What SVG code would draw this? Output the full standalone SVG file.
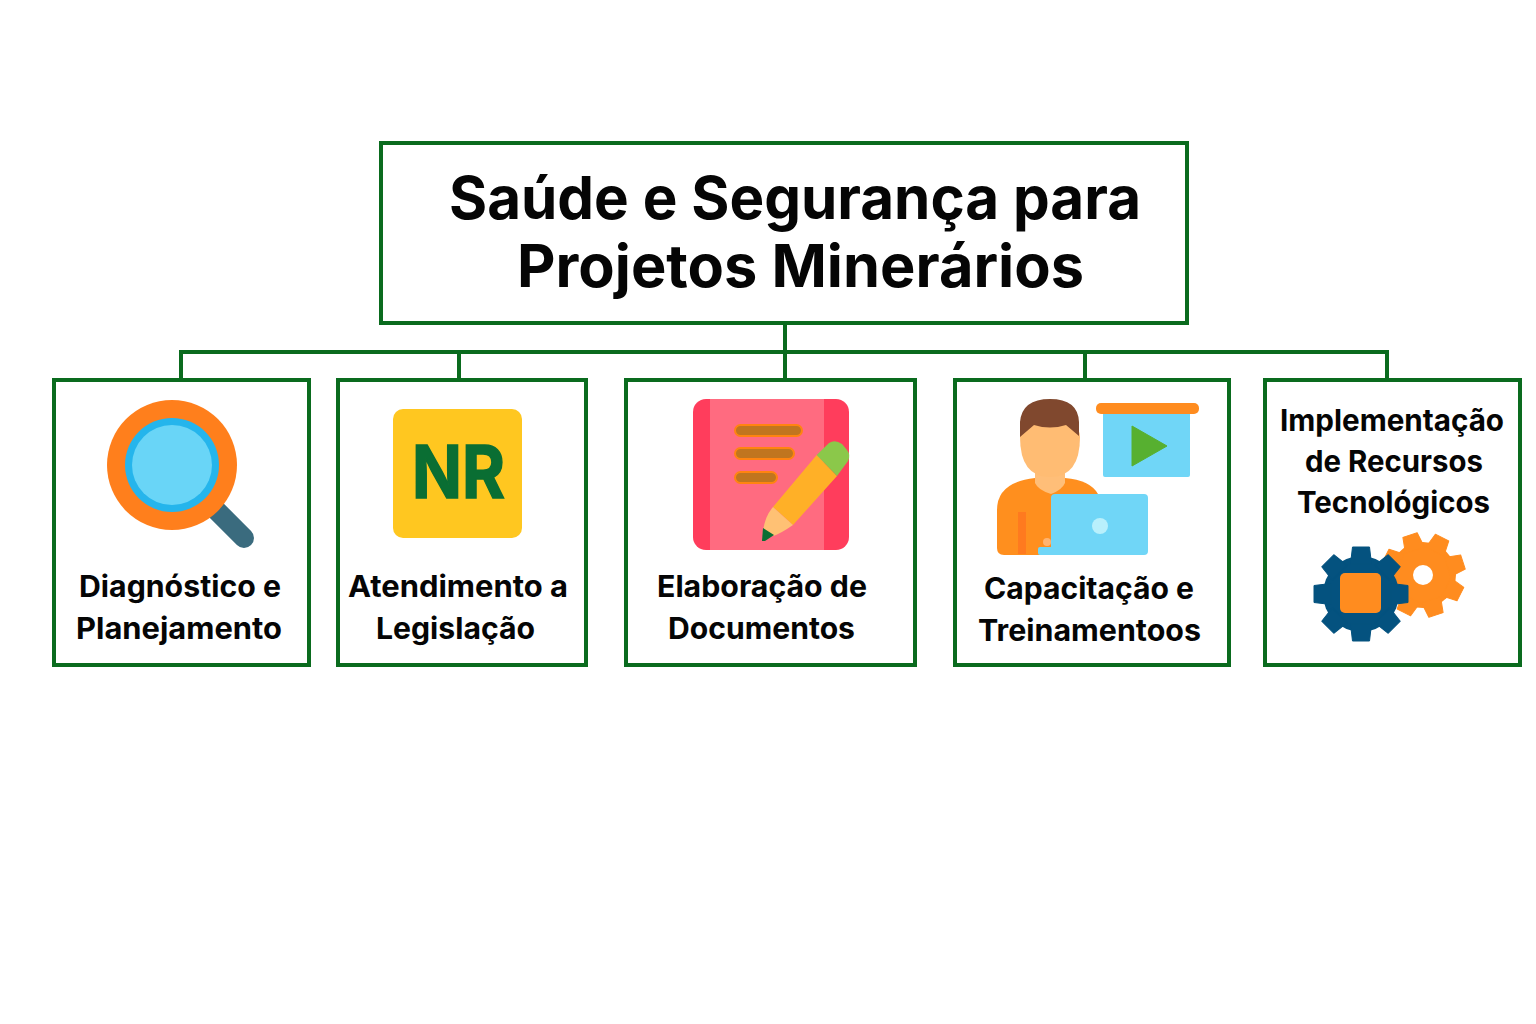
<svg xmlns="http://www.w3.org/2000/svg" width="1536" height="1024" viewBox="0 0 1536 1024">
<style>
.box{fill:#fff;stroke:#0a6b1e;stroke-width:4}
.conn{fill:none;stroke:#0a6b1e;stroke-width:4}
text{font-family:"Inter","Liberation Sans",sans-serif;font-weight:700;fill:#050505}
.t{font-size:59px}
.l{font-size:30px}
</style>
<defs>
<path id="tb" d="M-8.500 -47H8.500L10.500 -30H-10.500Z" fill="#04527f" stroke="#04527f" stroke-width="1" stroke-linejoin="round"/>
<path id="to" d="M-7.500 -42H7.500L10 -26H-10Z" fill="#ff8c1f" stroke="#ff8c1f" stroke-width="1" stroke-linejoin="round"/>
</defs>
<rect width="1536" height="1024" fill="#fff"/>
<g id="connectors" class="conn">
<path d="M785 323V352M181 380V352H1387V380M459 352V380M785 352V380M1085 352V380"/>
</g>
<g id="title">
<rect class="box" x="381" y="143" width="806" height="180"/>
<text class="t" x="449" y="219" textLength="692" lengthAdjust="spacingAndGlyphs">Saúde e Segurança para</text>
<text class="t" x="517" y="287" textLength="567" lengthAdjust="spacingAndGlyphs">Projetos Minerários</text>
</g>
<g id="node-diagnostico">
<rect class="box" x="54" y="380" width="255" height="285"/>
<path d="M213 507L244 538" stroke="#3a6b7e" stroke-width="20" stroke-linecap="round"/>
<circle cx="172" cy="465" r="65" fill="#ff7f1c"/>
<circle cx="172" cy="465" r="47" fill="#25b5ec"/>
<circle cx="172" cy="465" r="40" fill="#69d5f7"/>
<text class="l" x="79" y="597" textLength="202" lengthAdjust="spacingAndGlyphs">Diagnóstico e</text>
<text class="l" x="76" y="639" textLength="206" lengthAdjust="spacingAndGlyphs">Planejamento</text>
</g>
<g id="node-atendimento">
<rect class="box" x="338" y="380" width="248" height="285"/>
<rect x="393" y="409" width="129" height="129" rx="10" fill="#ffc720"/>
<text x="412" y="498" font-size="73" textLength="93" lengthAdjust="spacingAndGlyphs" style="fill:#0a6e33;stroke:#0a6e33;stroke-width:1.500">NR</text>
<text class="l" x="348" y="597" textLength="220" lengthAdjust="spacingAndGlyphs">Atendimento a</text>
<text class="l" x="376" y="639" textLength="159" lengthAdjust="spacingAndGlyphs">Legislação</text>
</g>
<g id="node-elaboracao">
<rect class="box" x="626" y="380" width="289" height="285"/>
<rect x="693" y="399" width="156" height="151" rx="13" fill="#ff3d5c"/>
<rect x="710" y="399" width="114" height="151" fill="#ff6b80"/>
<g fill="#c0751f" stroke="#ff8410" stroke-width="2">
<rect x="735" y="425" width="67" height="11" rx="5.500"/>
<rect x="735" y="448" width="59" height="11" rx="5.500"/>
<rect x="735" y="472" width="42" height="11" rx="5.500"/>
</g>
<path d="M816.700 455L837 476L793 525L773 507Z" fill="#ffb027"/>
<path d="M816.700 455L829 443Q835 439 842 444L847 450Q851 455 848 461L837 476Z" fill="#8bc84a"/>
<path d="M773 507L793 525Q780 534 773 536L763 531Q765 516 773 507Z" fill="#ffc174"/>
<path d="M763 528L774 535L765 541L762 541Z" fill="#0a6e33"/>
<text class="l" x="657" y="597" textLength="210" lengthAdjust="spacingAndGlyphs">Elaboração de</text>
<text class="l" x="668" y="639" textLength="187" lengthAdjust="spacingAndGlyphs">Documentos</text>
</g>
<g id="node-capacitacao">
<rect class="box" x="955" y="380" width="274" height="285"/>
<rect x="1103" y="412" width="87" height="65" rx="2" fill="#70d6f7"/>
<rect x="1096" y="403" width="103" height="11" rx="5" fill="#ff8c1f"/>
<path d="M1132 426L1167 446L1132 466Z" fill="#57b030" stroke="#57b030" stroke-linejoin="round"/>
<path d="M997 548V510Q997 482 1035 478H1065Q1090 480 1098 494L1098 555H1004Q997 555 997 548Z" fill="#ff8f1e"/>
<rect x="1018" y="512" width="8" height="42" fill="#ff7a1f"/>
<path d="M1035 470H1065V483Q1062 490 1051 494Q1038 490 1035 483Z" fill="#ffbe78"/>
<path d="M1020 437Q1020 477 1050 477Q1080 477 1080 437Q1080 420 1050 420Q1020 420 1020 437Z" fill="#ffbc73"/>
<path d="M1020 437V422Q1022 399 1050 399Q1078 399 1079 422V436L1066 425Q1050 430 1034 425Z" fill="#80482e"/>
<circle cx="1047" cy="542" r="4" fill="#ffb470"/>
<rect x="1051" y="494" width="97" height="61" rx="4" fill="#70d6f7"/>
<rect x="1038" y="547" width="30" height="8" rx="2" fill="#70d6f7"/>
<circle cx="1100" cy="526" r="8" fill="#b9f0fc"/>
<text class="l" x="984" y="599" textLength="210" lengthAdjust="spacingAndGlyphs">Capacitação e</text>
<text class="l" x="978" y="641" textLength="223" lengthAdjust="spacingAndGlyphs">Treinamentoos</text>
</g>
<g id="node-implementacao">
<rect class="box" x="1265" y="380" width="255" height="285"/>
<text class="l" x="1280" y="431" textLength="224" lengthAdjust="spacingAndGlyphs">Implementação</text>
<text class="l" x="1305" y="472" textLength="178" lengthAdjust="spacingAndGlyphs">de Recursos</text>
<text class="l" x="1297" y="513" textLength="193" lengthAdjust="spacingAndGlyphs">Tecnológicos</text>
<g transform="translate(1423 575)">
<circle r="33" fill="#ff8c1f"/>
<use href="#to" transform="rotate(27)"/><use href="#to" transform="rotate(72)"/><use href="#to" transform="rotate(117)"/><use href="#to" transform="rotate(162)"/><use href="#to" transform="rotate(207)"/><use href="#to" transform="rotate(252)"/><use href="#to" transform="rotate(297)"/><use href="#to" transform="rotate(342)"/>
<circle r="10" fill="#fff"/>
</g>
<g transform="translate(1361 594)">
<circle r="38" fill="#04527f"/>
<use href="#tb"/><use href="#tb" transform="rotate(45)"/><use href="#tb" transform="rotate(90)"/><use href="#tb" transform="rotate(135)"/><use href="#tb" transform="rotate(180)"/><use href="#tb" transform="rotate(225)"/><use href="#tb" transform="rotate(270)"/><use href="#tb" transform="rotate(315)"/>
<rect x="-21" y="-21" width="41" height="40" rx="5" fill="#ff8c1f"/>
</g>
</g>
</svg>
